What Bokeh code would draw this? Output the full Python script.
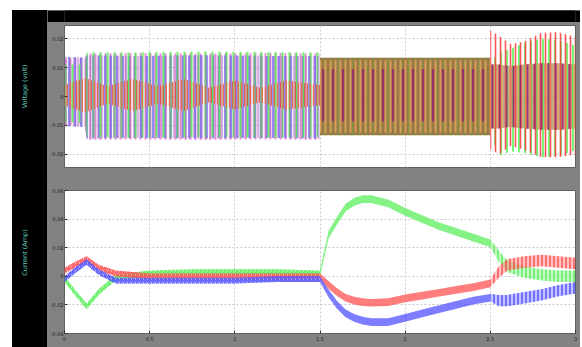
import numpy as np
from bokeh.plotting import figure
from bokeh.models import FixedTicker, Range1d
from bokeh.layouts import column, row
from bokeh.embed import file_html
from bokeh.resources import INLINE
from bokeh.core.properties import value

# ---------------- axes ----------------
x_ticks = [0, 0.5, 1, 1.5, 2, 2.5, 3]
x_tick_labels = ["0", "0.5", "1", "1.5", "2", "2.5", "3"]
v_ticks = [-0.02, -0.01, 0, 0.01, 0.02]
v_tick_labels = ["-0.02", "-0.01", "0", "0.01", "0.02"]
i_ticks = [-0.04, -0.02, 0, 0.02, 0.04, 0.06]
i_tick_labels = ["-0.04", "-0.02", "0", "0.02", "0.04", "0.06"]
v_label = "Voltage (volt)"
i_label = "Current (Amp)"

# ---------------- voltage envelopes ----------------
# stage A: 0 - 1.5 s
va_t = [0, 0.12, 0.13, 0.4, 0.8, 1.2, 1.5]
va_blue_hi = [0.0137, 0.0135, 0.0142, 0.0140, 0.0142, 0.0140, 0.0140]
va_blue_lo = [-0.0103, -0.0105, -0.0145, -0.0143, -0.0145, -0.0143, -0.0145]
va_green_hi = [0.0110, 0.0110, 0.0153, 0.0152, 0.0155, 0.0153, 0.0152]
va_green_lo = [-0.0090, -0.0090, -0.0140, -0.0142, -0.0140, -0.0142, -0.0140]
va_pink_hi = [0.0130, 0.0130, 0.0148, 0.0150, 0.0148, 0.0150, 0.0148]
va_pink_lo = [-0.0100, -0.0100, -0.0150, -0.0148, -0.0150, -0.0148, -0.0150]
vr_t = [0, 0.12, 0.25, 0.4, 0.55, 0.7, 0.85, 1.0, 1.15, 1.3, 1.5]
vr_hi = [0.004, 0.0065, 0.0035, 0.006, 0.0035, 0.006, 0.003, 0.0055, 0.003, 0.0055, 0.004]
vr_lo = [-0.003, -0.0055, -0.0025, -0.005, -0.0025, -0.005, -0.002, -0.0045, -0.002, -0.0045, -0.003]
# stage B: 1.5 - 2.5 s
vb_t = [1.5, 2.5]
vb_outer_hi = [0.0134, 0.0134]
vb_outer_lo = [-0.0134, -0.0134]
vb_orange_hi = [0.0125, 0.0125]
vb_orange_lo = [-0.0125, -0.0125]
vb_inner_hi = [0.0095, 0.0095]
vb_inner_lo = [-0.0085, -0.0085]
# stage C: 2.5 - 3 s
vc_t = [2.5, 2.55, 2.62, 2.7, 2.8, 2.9, 3.0]
vc_red_hi = [0.0228, 0.0210, 0.0180, 0.0190, 0.0220, 0.0222, 0.0205]
vc_red_lo = [-0.0180, -0.0200, -0.0170, -0.0185, -0.0210, -0.0210, -0.0200]
vc_green_hi = [0.0120, 0.0150, 0.0165, 0.0185, 0.0200, 0.0195, 0.0175]
vc_green_lo = [-0.0130, -0.0205, -0.0190, -0.0195, -0.0210, -0.0205, -0.0185]
vc_inner_hi = [0.0110, 0.0110, 0.0105, 0.0110, 0.0115, 0.0115, 0.0110]
vc_inner_lo = [-0.0110, -0.0110, -0.0105, -0.0110, -0.0115, -0.0115, -0.0110]

# ---------------- currents ----------------
i_t = [0, 0.06, 0.13, 0.2, 0.3, 0.5, 0.75, 1.0, 1.25, 1.5, 1.55, 1.6, 1.65, 1.7,
       1.75, 1.8, 1.9, 2.0, 2.1, 2.2, 2.3, 2.4, 2.5, 2.55, 2.6, 2.7, 2.8, 2.9, 3.0]
i_green = [-0.002, -0.011, -0.021, -0.011, -0.001, 0.002, 0.003, 0.003, 0.003, 0.002,
           0.029, 0.039, 0.048, 0.052, 0.054, 0.054, 0.051, 0.045, 0.040, 0.035,
           0.031, 0.027, 0.023, 0.014, 0.007, 0.003, 0.001, 0.0, 0.0]
i_red = [0.004, 0.008, 0.012, 0.006, 0.002, 0.0, 0.0, 0.0, 0.0, 0.0,
         -0.006, -0.011, -0.015, -0.017, -0.018, -0.0185, -0.0180, -0.0155, -0.0135,
         -0.0115, -0.0095, -0.0075, -0.005, 0.003, 0.008, 0.010, 0.011, 0.010, 0.009]
i_blue = [-0.002, 0.004, 0.010, 0.003, -0.003, -0.003, -0.003, -0.003, -0.002, -0.002,
          -0.012, -0.020, -0.026, -0.029, -0.031, -0.032, -0.032, -0.029, -0.026,
          -0.023, -0.020, -0.017, -0.015, -0.017, -0.017, -0.015, -0.013, -0.010, -0.008]
i_ripple = [0.002, 0.002, 0.002, 0.002, 0.002, 0.002, 0.002, 0.002, 0.002, 0.002,
            0.0027, 0.0027, 0.0027, 0.0027, 0.0027, 0.0027, 0.0027, 0.0027, 0.0027,
            0.0027, 0.0027, 0.0027, 0.0027, 0.004, 0.004, 0.004, 0.004, 0.004, 0.004]

GRAY = "#828282"
LABEL_COLOR = "#5fc8b4"
FONT = "DejaVu Sans"
TOP_H, BOT_H, BAND_H = 156, 169, 12


def style_main(p, yticks, ylabels, show_x):
    p.background_fill_color = "white"
    p.border_fill_color = GRAY
    p.outline_line_color = "#606060"
    p.xgrid.ticker = FixedTicker(ticks=x_ticks)
    p.ygrid.ticker = FixedTicker(ticks=yticks)
    for g in (p.xgrid, p.ygrid):
        g.grid_line_color = "#c8c8c8"
        g.grid_line_dash = "2 2"
        g.grid_line_width = 1
    ya = p.yaxis[0]
    ya.ticker = FixedTicker(ticks=yticks)
    ya.major_label_overrides = {t: l for t, l in zip(yticks, ylabels)}
    ya.major_label_text_font_size = "5px"
    ya.major_label_text_font = FONT
    ya.major_label_text_color = "#1e1e1e"
    ya.major_tick_in = 3
    ya.major_tick_out = 0
    ya.minor_tick_line_color = None
    ya.axis_line_color = None
    ya.major_tick_line_color = "#333333"
    ya.major_label_standoff = 1
    xa = p.xaxis[0]
    if show_x:
        xa.ticker = FixedTicker(ticks=x_ticks)
        xa.major_label_overrides = {t: l for t, l in zip(x_ticks, x_tick_labels)}
        xa.major_label_text_font_size = "5px"
        xa.major_label_text_font = FONT
        xa.major_label_text_color = "#1e1e1e"
        xa.major_tick_in = 3
        xa.major_tick_out = 0
        xa.minor_tick_line_color = None
        xa.axis_line_color = None
        xa.major_tick_line_color = "#333333"
        xa.major_label_standoff = 3
    else:
        xa.visible = False


def vband(p, t, lo, hi, color, scale, weight, alpha=1.0):
    p.varea(x=t, y1=lo, y2=hi, fill_alpha=0, hatch_pattern="|",
            hatch_color=color, hatch_scale=scale, hatch_weight=weight,
            hatch_alpha=alpha)


def black_fig(w, h):
    f = figure(width=w, height=h, toolbar_location=None, output_backend="svg",
               x_range=Range1d(0, w), y_range=Range1d(0, h),
               x_axis_type=None, y_axis_type=None, min_border=0,
               background_fill_color="black", border_fill_color="black",
               outline_line_color=None)
    f.grid.visible = False
    return f


# ---------------- label strip (one tall black figure incl. top band) ----------------
LAB_H = BAND_H + TOP_H + BOT_H
lab = black_fig(35, LAB_H)
lab.text(x=[12, 12], y=[LAB_H - 76, 95], text=[v_label, i_label],
         angle=np.pi / 2, text_align="center", text_baseline="middle",
         text_font=value(FONT), text_font_size="6.5px", text_color=LABEL_COLOR)

# top black band over the plots
band = black_fig(533, BAND_H)

# ---------------- top: voltage ----------------
pv = figure(width=533, height=TOP_H, toolbar_location=None, output_backend="svg",
            x_range=Range1d(0, 3), y_range=Range1d(-0.0245, 0.0245),
            min_border_left=15, min_border_right=5, min_border_top=3,
            min_border_bottom=11)
style_main(pv, v_ticks, v_tick_labels, False)

# stage A
pv.varea(x=va_t, y1=va_blue_lo, y2=va_blue_hi, fill_color="#c9a0d8", fill_alpha=0.15)
vband(pv, va_t, va_pink_lo, va_pink_hi, "#e070c8", 5, 1.8, 0.8)
vband(pv, va_t, va_blue_lo, va_blue_hi, "#6a6aff", 6, 1.8, 0.8)
vband(pv, va_t, va_green_lo, va_green_hi, "#50f050", 7, 2.0, 0.85)
vband(pv, va_t, va_blue_lo, va_blue_hi, "#a060c0", 4, 1.3, 0.6)
vband(pv, vr_t, vr_lo, vr_hi, "#d84030", 3, 1.3, 0.75)
vband(pv, vr_t, vr_lo, vr_hi, "#f09848", 4, 1.2, 0.65)
# stage B
pv.varea(x=vb_t, y1=vb_outer_lo, y2=vb_outer_hi, fill_color="#8c6a32", fill_alpha=0.9)
vband(pv, vb_t, vb_outer_lo, vb_outer_hi, "#7aa040", 7, 1.4, 0.75)
vband(pv, vb_t, vb_orange_lo, vb_orange_hi, "#eaa45c", 5, 2.0, 0.8)
vband(pv, vb_t, vb_inner_lo, vb_inner_hi, "#98206e", 10, 2.4, 0.8)
# stage C
pv.varea(x=vc_t, y1=vc_inner_lo, y2=vc_inner_hi, fill_color="#8c6a32", fill_alpha=0.55)
vband(pv, vc_t, vc_green_lo, vc_green_hi, "#58f058", 6, 1.8, 0.9)
vband(pv, vc_t, vc_red_lo, vc_red_hi, "#ff4040", 5, 1.6, 0.9)
vband(pv, vc_t, vc_inner_lo, vc_inner_hi, "#eaa45c", 4, 1.4, 0.8)
vband(pv, vc_t, vc_inner_lo, vc_inner_hi, "#98206e", 7, 2.0, 0.85)

# ---------------- bottom: current ----------------
pi = figure(width=533, height=BOT_H, toolbar_location=None, output_backend="svg",
            x_range=Range1d(0, 3), y_range=Range1d(-0.04, 0.06),
            min_border_left=15, min_border_right=5, min_border_top=12,
            min_border_bottom=14)
style_main(pi, i_ticks, i_tick_labels, True)

segments = [(0, 10, "right_diagonal_line", 0.35), (9, 23, None, 0.75), (22, 29, "|", 0.35)]
for series, col in ((i_green, "#5cee5c"), (i_red, "#ff5252"), (i_blue, "#5252ff")):
    c = np.array(series)
    r = np.array(i_ripple)
    t = np.array(i_t)
    for a, b, hatch, fa in segments:
        kw = dict(fill_color=col, fill_alpha=fa)
        if hatch:
            kw.update(hatch_pattern=hatch, hatch_color=col, hatch_scale=4,
                      hatch_weight=1.6, hatch_alpha=0.9)
        pi.varea(x=t[a:b], y1=(c - r)[a:b], y2=(c + r)[a:b], **kw)

plots = column(band, pv, pi, styles={"background-color": GRAY})
layout = row(lab, plots, margin=(10, 0, 0, 12), styles={"background-color": "black"})

open("out.html", "w").write(file_html(layout, INLINE))
